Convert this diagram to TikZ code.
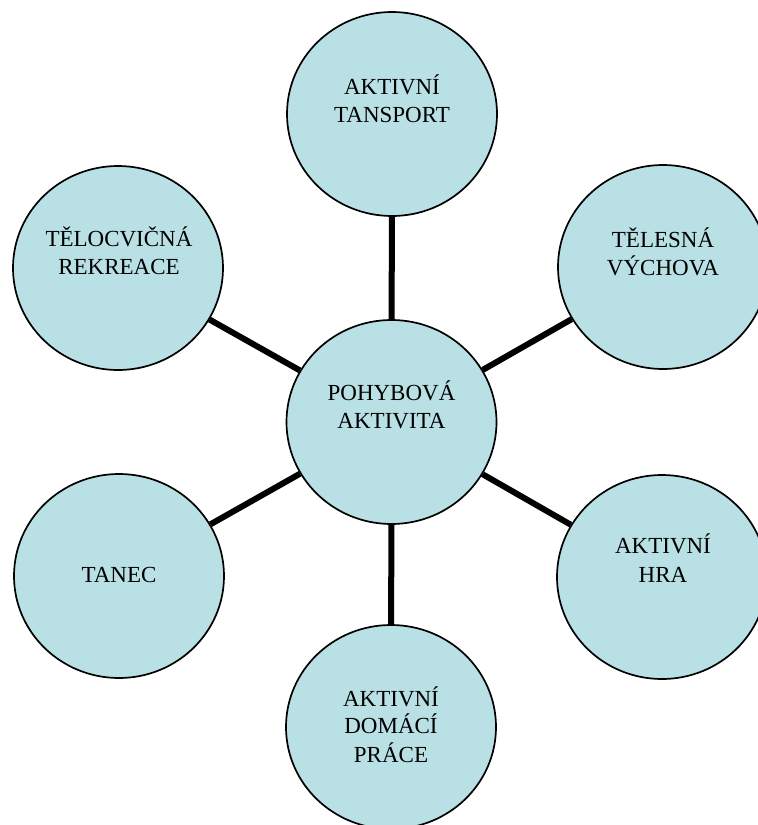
\documentclass[tikz,border=0pt]{standalone}
\usepackage{fontspec}
\setmainfont{Liberation Serif}
\usetikzlibrary{shapes.geometric,backgrounds}
\definecolor{bubblefill}{RGB}{185,224,228}
\tikzset{
  bubble/.style={ellipse, draw=black, line width=1.7pt, fill=bubblefill,
    minimum width=210pt, minimum height=204pt, inner sep=0pt},
  link/.style={line width=6pt, black},
  lbl/.style={anchor=base, inner sep=0pt, font=\fontsize{23}{28}\selectfont, text=black}
}
\begin{document}
\begin{tikzpicture}[x=1pt,y=-1pt]
\useasboundingbox (0,0) rectangle (758,825);
% circles
\node[bubble] (c)  at (391.5,422) {};
\node[bubble] (t)  at (392,114) {};
\node[bubble] (tr) at (663,267) {};
\node[bubble] (br) at (662,577) {};
\node[bubble] (b)  at (391,727) {};
\node[bubble] (bl) at (119,576) {};
\node[bubble] (tl) at (118,268) {};
% connectors
\begin{scope}[on background layer]
\foreach \n in {t,tr,br,b,bl,tl}
  \draw[link] (c) -- (\n);
\end{scope}
% labels
\node[lbl] (t1) at (392,94) {AKTIVNÍ};
\node[lbl] (t2) at (392,122) {TANSPORT};
\node[lbl] (c1) at (391.5,400) {POHYBOVÁ};
\node[lbl] (c2) at (391.5,428) {AKTIVITA};
\node[lbl] (tr1) at (663,247) {TĚLESNÁ};
\node[lbl] (tr2) at (663,275) {VÝCHOVA};
\node[lbl] (br1) at (663,553) {AKTIVNÍ};
\node[lbl] (br2) at (663,582) {HRA};
\node[lbl] (b1) at (391,706) {AKTIVNÍ};
\node[lbl] (b2) at (391,733) {DOMÁCÍ};
\node[lbl] (b3) at (391,762) {PRÁCE};
\node[lbl] (tl1) at (119,246) {TĚLOCVIČNÁ};
\node[lbl] (tl2) at (119,274) {REKREACE};
\node[lbl] (bl1) at (119,582) {TANEC};
\end{tikzpicture}
\end{document}
